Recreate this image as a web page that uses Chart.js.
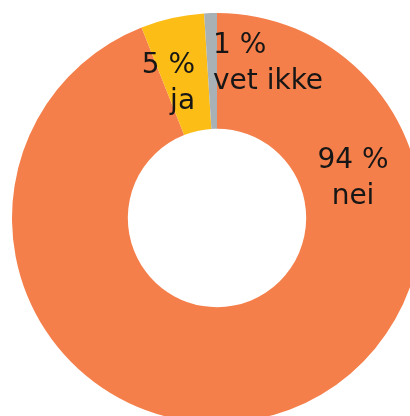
<!DOCTYPE html>
<html>
<head>
<meta charset="utf-8">
<script src="https://cdn.jsdelivr.net/npm/chart.js@4"></script>
<style>
  html, body { margin: 0; padding: 0; background: #ffffff; overflow: hidden; width: 410px; height: 416px; }
  #wrap { position: absolute; left: 12px; top: 13px; width: 410px; height: 410px; }
</style>
</head>
<body>
<div id="wrap"><canvas id="c"></canvas></div>
<script>
// Data
const categories = ['nei', 'ja', 'vet ikke'];
const values = [94, 5, 1];
const valueLabels = ['94 %', '5 %', '1 %'];
const colors = ['#F47F4A', '#FCBD17', '#A8B1B6'];

// Label placement (polar, relative to chart centre; angle in degrees clockwise from top, radius as fraction of outer radius)
const labelPlacement = [
  { angle: 69.8, r: 0.707, align: 'center' },
  { angle: -8.6, r: 0.716, align: 'right' },
  { angle: -1.4, r: 0.805, align: 'left' }
];

const labelPlugin = {
  id: 'sliceLabels',
  afterDatasetsDraw(chart) {
    const ctx = chart.ctx;
    const meta = chart.getDatasetMeta(0);
    ctx.save();
    ctx.fillStyle = '#161616';
    ctx.font = '28px "DejaVu Sans", sans-serif';
    ctx.textBaseline = 'alphabetic';
    meta.data.forEach((arc, i) => {
      const p = labelPlacement[i];
      const a = p.angle * Math.PI / 180;
      const rr = arc.outerRadius * p.r;
      const x = arc.x + Math.sin(a) * rr;
      const y = arc.y - Math.cos(a) * rr;
      ctx.textAlign = p.align;
      ctx.fillText(valueLabels[i], x, y);
      ctx.fillText(categories[i], x, y + 36);
    });
    ctx.restore();
  }
};

new Chart(document.getElementById('c'), {
  type: 'doughnut',
  data: {
    labels: categories,
    datasets: [{
      data: values,
      backgroundColor: colors,
      borderWidth: 0,
      hoverOffset: 0
    }]
  },
  options: {
    responsive: true,
    maintainAspectRatio: false,
    animation: false,
    events: [],
    cutout: '43.5%',
    rotation: 0,
    layout: { padding: 0 },
    plugins: {
      legend: { display: false },
      tooltip: { enabled: false }
    }
  },
  plugins: [labelPlugin]
});
</script>
</body>
</html>
